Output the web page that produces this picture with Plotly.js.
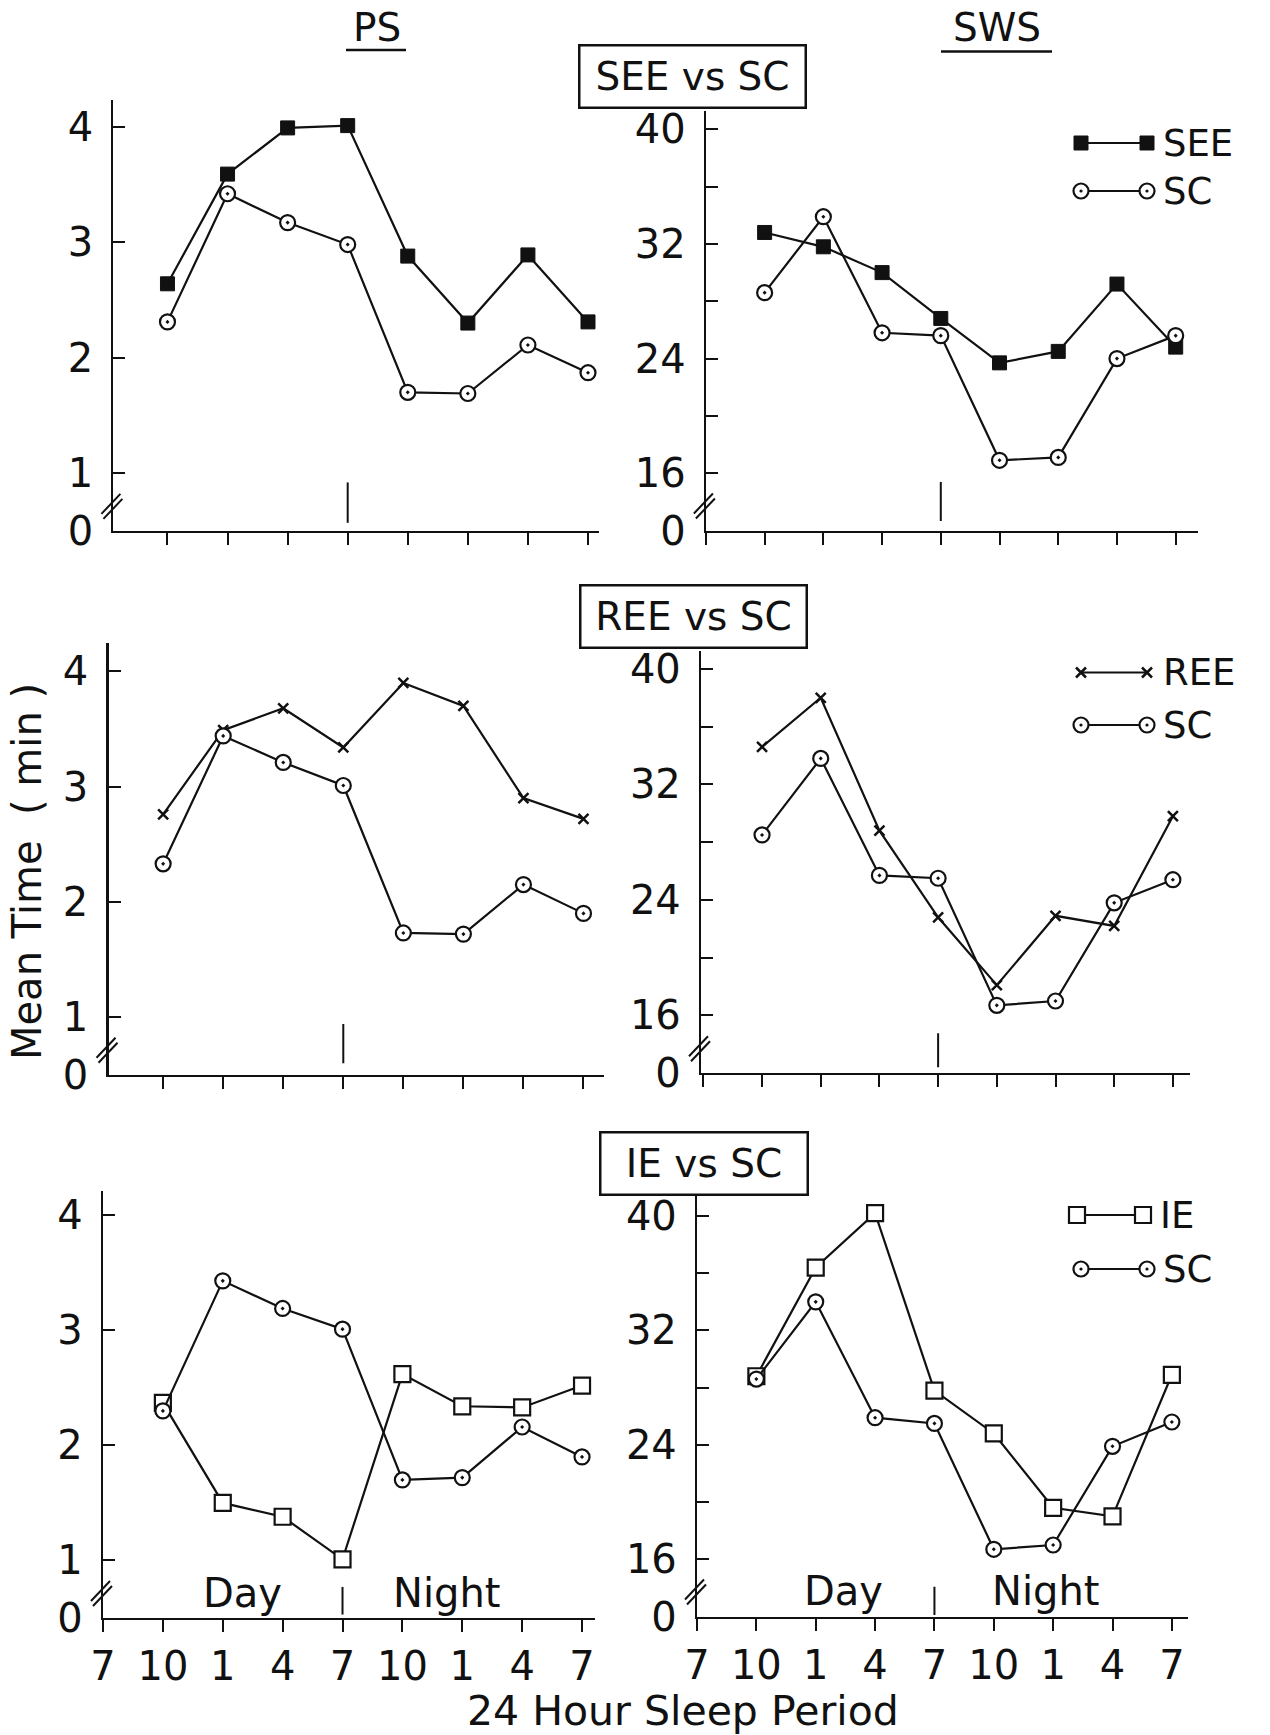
<!DOCTYPE html>
<html>
<head>
<meta charset="utf-8">
<script src="https://cdn.plot.ly/plotly-3.0.1.min.js"></script>
<style>html,body{margin:0;padding:0;background:#fff;}#chart{width:1270px;height:1735px;}</style>
</head>
<body>
<div id="chart"></div>
<script>
// ---------------- DATA ----------------
// Time of day labels for the 24-hour sleep period (every 3 hours, starting at 7)
const hourLabels = ['7', '10', '1', '4', '7', '10', '1', '4', '7'];
const hoursFromStart = [0, 3, 6, 9, 12, 15, 18, 21, 24];
const sampleHours = hoursFromStart.slice(1);

// PS (min)
const psSEE = [2.64, 3.59, 3.99, 4.01, 2.88, 2.30, 2.89, 2.31];
const psSC_1 = [2.31, 3.42, 3.17, 2.98, 1.70, 1.69, 2.11, 1.87];
const psREE = [2.76, 3.49, 3.68, 3.34, 3.90, 3.70, 2.90, 2.72];
const psSC_2 = [2.33, 3.44, 3.21, 3.01, 1.73, 1.72, 2.15, 1.90];
const psIE = [2.37, 1.50, 1.38, 1.01, 2.62, 2.34, 2.33, 2.52];
const psSC_3 = [2.30, 3.43, 3.19, 3.01, 1.70, 1.72, 2.16, 1.90];

// SWS (min)
const swsSEE = [32.8, 31.8, 30.0, 26.8, 23.7, 24.5, 29.2, 24.8];
const swsSC_1 = [28.6, 33.9, 25.8, 25.6, 16.9, 17.1, 24.0, 25.6];
const swsREE = [34.6, 38.0, 28.8, 22.8, 18.1, 22.9, 22.2, 29.8];
const swsSC_2 = [28.5, 33.8, 25.7, 25.5, 16.7, 17.0, 23.8, 25.4];
const swsIE = [28.8, 36.4, 40.2, 27.8, 24.8, 19.6, 19.0, 28.9];
const swsSC_3 = [28.6, 34.0, 25.9, 25.5, 16.7, 17.0, 23.9, 25.6];

const psTickVals = [0.5, 1, 2, 3, 4];
const psTickText = ['0', '1', '2', '3', '4'];
const swsTickVals = [12, 16, 20, 24, 28, 32, 36, 40];
const swsTickText = ['0', '16', '', '24', '', '32', '', '40'];

const groupTitles = ['SEE vs SC', 'REE vs SC', 'IE vs SC'];
const expNames = ['SEE', 'REE', 'IE'];
const controlName = 'SC';
const columnTitles = ['PS', 'SWS'];
const yTitle = 'Mean Time  ( min )';
const xTitle = '24 Hour Sleep Period';

// ---------------- LAYOUT GEOMETRY ----------------
const W = 1270, H = 1735;
const PX = x => x / W;
const PY = y => 1 - y / H;
const FONT = 'DejaVu Sans, Verdana, sans-serif';
const INK = '#111';

const panels = [
  {id: '', xd: [113.4, 599.4], yd: [100.2, 530.9], xr: [0.3, 24.57], yr: [0.5, 4.23], type: 'ps', div: [0.57, 0.92]},
  {id: '2', xd: [705.9, 1198], yd: [110.7, 530.5], xr: [0, 25.14], yr: [12, 41.3], type: 'sws', div: [12.66, 15.39]},
  {id: '3', xd: [108.5, 603.5], yd: [642.6, 1074.7], xr: [0.27, 25.0], yr: [0.5, 4.25], type: 'ps', div: [0.60, 0.94]},
  {id: '4', xd: [701, 1189.9], yd: [651, 1073.2], xr: [-0.12, 24.87], yr: [12, 41.24], type: 'sws', div: [12.42, 14.77]},
  {id: '5', xd: [103, 594.6], yd: [1191.1, 1618.0], xr: [0, 24.63], yr: [0.5, 4.21], type: 'ps', div: [0.53, 0.77], bottom: true},
  {id: '6', xd: [697, 1187.9], yd: [1194.6, 1616.5], xr: [0, 24.81], yr: [12, 41.5], type: 'sws', div: [12.1, 14.08], bottom: true}
];

const seriesByPanel = [
  [psSEE, psSC_1], [swsSEE, swsSC_1],
  [psREE, psSC_2], [swsREE, swsSC_2],
  [psIE, psSC_3], [swsIE, swsSC_3]
];
const expSymbols = [
  {symbol: 'square', color: INK, size: 14, line: {color: INK, width: 1}},
  {symbol: 'x-thin', color: INK, size: 10, line: {color: INK, width: 2.5}},
  {symbol: 'square', color: '#fff', size: 16, line: {color: INK, width: 2.2}}
];
const scMarker = {symbol: 'circle-dot', color: '#fff', size: 15, line: {color: INK, width: 2.2}};

const data = [];
const layout = {
  width: W, height: H, autosize: false,
  margin: {l: 0, r: 0, t: 0, b: 0},
  paper_bgcolor: '#fff', plot_bgcolor: 'rgba(0,0,0,0)',
  showlegend: false,
  font: {family: FONT, color: INK},
  shapes: [], annotations: []
};

function ann(o) {
  return Object.assign({xref: 'paper', yref: 'paper', showarrow: false, xanchor: 'center', yanchor: 'middle'}, o);
}

panels.forEach((p, i) => {
  const xa = 'x' + p.id, ya = 'y' + p.id;
  const row = Math.floor(i / 2);
  const [expVals, scVals] = seriesByPanel[i];
  data.push({
    x: sampleHours, y: expVals, xaxis: xa, yaxis: ya, type: 'scatter', mode: 'lines+markers',
    name: expNames[row], line: {color: INK, width: 2.2}, marker: expSymbols[row], cliponaxis: false
  });
  data.push({
    x: sampleHours, y: scVals, xaxis: xa, yaxis: ya, type: 'scatter', mode: 'lines+markers',
    name: controlName, line: {color: INK, width: 2.2}, marker: scMarker, cliponaxis: false
  });

  layout['xaxis' + p.id] = {
    domain: [PX(p.xd[0]), PX(p.xd[1])], range: p.xr, anchor: ya,
    tickmode: 'array', tickvals: hoursFromStart, ticktext: hourLabels,
    showticklabels: !!p.bottom, ticks: 'outside', ticklen: 12, tickwidth: 2, tickcolor: INK,
    showline: true, linecolor: INK, linewidth: 2.2, showgrid: false, zeroline: false,
    tickfont: {family: FONT, size: 40, color: INK}, ticklabelstandoff: 0, fixedrange: true
  };
  const isPS = p.type === 'ps';
  layout['yaxis' + p.id] = {
    domain: [PY(p.yd[1]), PY(p.yd[0])], range: p.yr, anchor: xa,
    tickmode: 'array', tickvals: isPS ? psTickVals : swsTickVals, ticktext: isPS ? psTickText : swsTickText,
    ticks: 'inside', ticklen: 12, tickwidth: 2, tickcolor: INK,
    showline: true, linecolor: INK, linewidth: 2.2, showgrid: false, zeroline: false,
    tickfont: {family: FONT, size: 40, color: INK}, ticklabelstandoff: 10, fixedrange: true
  };

  // Day / Night divider
  layout.shapes.push({type: 'line', xref: xa, yref: ya, x0: 12, x1: 12, y0: p.div[0], y1: p.div[1],
    line: {color: INK, width: 2}});

  // axis break marks
  const ax = p.xd[0], by = p.yd[1];
  [[-12, -17, 7, -37], [-10, -12, 9, -32]].forEach(s => {
    layout.shapes.push({type: 'line', xref: 'paper', yref: 'paper',
      x0: PX(ax + s[0]), y0: PY(by + s[1]), x1: PX(ax + s[2]), y1: PY(by + s[3]),
      line: {color: INK, width: 2}});
  });

  if (p.bottom) {
    const yMid = isPS ? 0.72 : 13.75;
    layout.annotations.push(ann({xref: xa, yref: ya, x: isPS ? 7.0 : 7.4, y: yMid, text: 'Day',
      font: {family: FONT, size: 40, color: INK}}));
    layout.annotations.push(ann({xref: xa, yref: ya, x: isPS ? 17.2 : 17.6, y: yMid, text: 'Night',
      font: {family: FONT, size: 40, color: INK}}));
  }
});

// group title boxes
const boxCenters = [[692, 76.5], [693, 616.5], [704.5, 1163.5]];
groupTitles.forEach((t, i) => {
  layout.annotations.push(ann({x: PX(boxCenters[i][0]), y: PY(boxCenters[i][1]),
    text: t, font: {family: FONT, size: 39, color: INK},
    bordercolor: INK, borderwidth: 2.5, borderpad: 6, bgcolor: '#fff',
    width: i === 2 ? 193 : 212, height: 48}));
});

// column headings
[[columnTitles[0], 376.5, 28, 346, 406, 50], [columnTitles[1], 997, 28, 941, 1052, 51.5]].forEach(h => {
  layout.annotations.push(ann({x: PX(h[1]), y: PY(h[2]), text: h[0],
    font: {family: FONT, size: 39, color: INK}}));
  layout.shapes.push({type: 'line', xref: 'paper', yref: 'paper', x0: PX(h[3]), x1: PX(h[4]),
    y0: PY(h[5]), y1: PY(h[5]), line: {color: INK, width: 2.5}});
});

// legends (drawn keys)
function keyMarker(kind, cx, cy) {
  const S = layout.shapes;
  if (kind === 'fsq') {
    S.push({type: 'rect', xref: 'paper', yref: 'paper', x0: PX(cx - 7), x1: PX(cx + 7), y0: PY(cy + 7), y1: PY(cy - 7),
      fillcolor: INK, line: {color: INK, width: 1}});
  } else if (kind === 'osq') {
    S.push({type: 'rect', xref: 'paper', yref: 'paper', x0: PX(cx - 8), x1: PX(cx + 8), y0: PY(cy + 8), y1: PY(cy - 8),
      fillcolor: '#fff', line: {color: INK, width: 2.2}});
  } else if (kind === 'circ') {
    S.push({type: 'circle', xref: 'paper', yref: 'paper', x0: PX(cx - 7.5), x1: PX(cx + 7.5), y0: PY(cy + 7.5), y1: PY(cy - 7.5),
      fillcolor: '#fff', line: {color: INK, width: 2.2}});
    S.push({type: 'circle', xref: 'paper', yref: 'paper', x0: PX(cx - 1.6), x1: PX(cx + 1.6), y0: PY(cy + 1.6), y1: PY(cy - 1.6),
      fillcolor: INK, line: {color: INK, width: 0}});
  } else if (kind === 'x') {
    [[-5, -5, 5, 5], [-5, 5, 5, -5]].forEach(d => S.push({type: 'line', xref: 'paper', yref: 'paper',
      x0: PX(cx + d[0]), y0: PY(cy + d[1]), x1: PX(cx + d[2]), y1: PY(cy + d[3]), line: {color: INK, width: 2.5}}));
  }
}
function keyRow(kind, x0, x1, y, label, tx) {
  layout.shapes.push({type: 'line', xref: 'paper', yref: 'paper', x0: PX(x0), x1: PX(x1), y0: PY(y), y1: PY(y),
    line: {color: INK, width: 2}});
  keyMarker(kind, x0, y);
  keyMarker(kind, x1, y);
  layout.annotations.push(ann({x: PX(tx), y: PY(y), xanchor: 'left',
    text: label, font: {family: FONT, size: 37, color: INK}}));
}
keyRow('fsq', 1081, 1147, 143, expNames[0], 1161);
keyRow('circ', 1081, 1147, 191, controlName, 1161);
keyRow('x', 1081, 1147, 672.5, expNames[1], 1161);
keyRow('circ', 1081, 1147, 725, controlName, 1161);
keyRow('osq', 1077, 1143, 1215, expNames[2], 1158);
keyRow('circ', 1081, 1147, 1269, controlName, 1161);

// axis titles
layout.annotations.push(ann({x: PX(27), y: PY(872), text: yTitle, textangle: -90,
  font: {family: FONT, size: 40, color: INK}}));
layout.annotations.push(ann({x: PX(683), y: PY(1711), text: xTitle,
  font: {family: FONT, size: 41, color: INK}}));

Plotly.newPlot('chart', data, layout, {staticPlot: true, displayModeBar: false});
</script>
</body>
</html>
